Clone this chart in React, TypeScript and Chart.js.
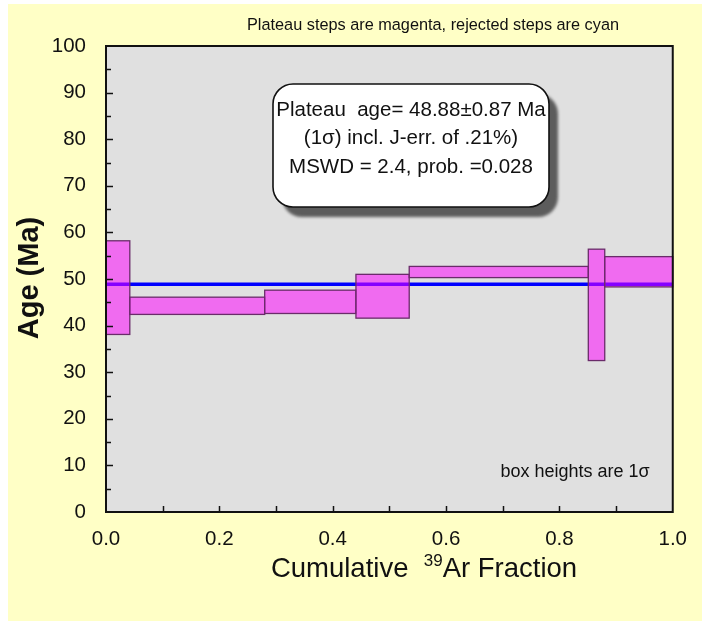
import React, { useEffect, useRef } from "react";
import { Chart, registerables } from "chart.js";

Chart.register(...registerables);

// Step heating increments: cumulative 39Ar fraction bounds, apparent age and 1σ error (Ma)
const stepStart = [0.0, 0.042, 0.28, 0.441, 0.535, 0.851, 0.88];
const stepEnd = [0.042, 0.28, 0.441, 0.535, 0.851, 0.88, 1.0];
const stepAge = [48.15, 44.25, 45.1, 46.3, 51.5, 44.45, 51.55];
const stepErr = [10.05, 1.85, 2.5, 4.7, 1.2, 11.95, 3.25];

const plateauAge = 48.88;

const xTickValues = [0, 0.2, 0.4, 0.6, 0.8, 1.0];
const yTickValues = [0, 10, 20, 30, 40, 50, 60, 70, 80, 90, 100];

const chartTitle = "Plateau steps are magenta, rejected steps are cyan";
const infoLines = [
  "Plateau  age= 48.88\u00b10.87 Ma",
  "(1\u03c3) incl. J-err. of .21%)",
  "MSWD = 2.4, prob. =0.028",
];
const boxNote = "box heights are 1\u03c3";
const yTitle = "Age (Ma)";

const FONT = "'Liberation Sans', Arial, sans-serif";
const PAGE_BG = "#ffffc6";
const PLOT_BG = "#e0e0e0";

function roundRect(ctx: CanvasRenderingContext2D, x: number, y: number, w: number, h: number, r: number) {
  ctx.beginPath();
  ctx.moveTo(x + r, y);
  ctx.lineTo(x + w - r, y);
  ctx.arcTo(x + w, y, x + w, y + r, r);
  ctx.lineTo(x + w, y + h - r);
  ctx.arcTo(x + w, y + h, x + w - r, y + h, r);
  ctx.lineTo(x + r, y + h);
  ctx.arcTo(x, y + h, x, y + h - r, r);
  ctx.lineTo(x, y + r);
  ctx.arcTo(x, y, x + r, y, r);
  ctx.closePath();
}

const plotBackground = {
  id: "plotBackground",
  beforeDatasetsDraw(chart: any) {
    const { ctx, chartArea: a } = chart;
    ctx.save();
    ctx.fillStyle = PLOT_BG;
    ctx.fillRect(a.left, a.top, a.right - a.left, a.bottom - a.top);
    ctx.restore();
  },
};

const stepBoxes = {
  id: "stepBoxes",
  afterDatasetsDraw(chart: any) {
    const { ctx, scales } = chart;
    const xs = scales.x;
    const ys = scales.y;
    ctx.save();
    for (let i = 0; i < stepAge.length; i++) {
      const x0 = xs.getPixelForValue(stepStart[i]);
      const x1 = xs.getPixelForValue(stepEnd[i]);
      const yTop = ys.getPixelForValue(stepAge[i] + stepErr[i]);
      const yBot = ys.getPixelForValue(stepAge[i] - stepErr[i]);
      ctx.fillStyle = "rgba(255, 0, 255, 0.52)";
      ctx.fillRect(x0, yTop, x1 - x0, yBot - yTop);
      ctx.strokeStyle = "#6a2c6a";
      ctx.lineWidth = 1.3;
      ctx.strokeRect(x0, yTop, x1 - x0, yBot - yTop);
    }
    ctx.restore();
  },
};

const frameAndText = {
  id: "frameAndText",
  afterDraw(chart: any) {
    const { ctx, chartArea: a, scales } = chart;
    const xs = scales.x;
    const ys = scales.y;
    ctx.save();

    // inward tick marks
    ctx.strokeStyle = "#111";
    ctx.lineWidth = 1.5;
    ctx.beginPath();
    for (let v = 5; v < 100; v += 5) {
      const y = Math.round(ys.getPixelForValue(v)) + 0.5;
      const len = v % 10 === 0 ? 7 : 5;
      ctx.moveTo(a.left, y);
      ctx.lineTo(a.left + len, y);
    }
    for (let k = 1; k < 10; k++) {
      const x = Math.round(xs.getPixelForValue(k / 10)) + 0.5;
      ctx.moveTo(x, a.bottom);
      ctx.lineTo(x, a.bottom - 6);
    }
    ctx.stroke();

    // plot frame
    ctx.lineWidth = 2;
    ctx.strokeStyle = "#111";
    ctx.strokeRect(a.left, a.top, a.right - a.left, a.bottom - a.top);

    // title
    ctx.fillStyle = "#111";
    ctx.textAlign = "center";
    ctx.textBaseline = "middle";
    ctx.font = `16.3px ${FONT}`;
    ctx.fillText(chartTitle, 425, 22);

    // note
    ctx.font = `18px ${FONT}`;
    ctx.fillText(boxNote, 567, 468);

    // y title
    ctx.save();
    ctx.translate(30, 274);
    ctx.rotate(-Math.PI / 2);
    ctx.font = `bold 29px ${FONT}`;
    ctx.textBaseline = "alphabetic";
    ctx.fillText(yTitle, 0, 0);
    ctx.restore();

    // x title with superscript
    const big = `27.5px ${FONT}`;
    const small = `17px ${FONT}`;
    const partA = "Cumulative  ";
    const partB = "39";
    const partC = "Ar Fraction";
    ctx.font = big;
    const wA = ctx.measureText(partA).width;
    const wC = ctx.measureText(partC).width;
    ctx.font = small;
    const wB = ctx.measureText(partB).width;
    const total = wA + wB + wC;
    let x = 416 - total / 2;
    const base = 573;
    ctx.textAlign = "left";
    ctx.textBaseline = "alphabetic";
    ctx.font = big;
    ctx.fillText(partA, x, base);
    x += wA;
    ctx.font = small;
    ctx.fillText(partB, x, base - 11);
    x += wB;
    ctx.font = big;
    ctx.fillText(partC, x, base);

    // info box with drop shadow
    const bx = 265, by = 80, bw = 276, bh = 123, r = 20;
    ctx.save();
    ctx.filter = "blur(1.5px)";
    ctx.fillStyle = "#5c5c5c";
    roundRect(ctx, bx + 9, by + 10, bw, bh, r);
    ctx.fill();
    ctx.restore();
    ctx.fillStyle = "#ffffff";
    roundRect(ctx, bx, by, bw, bh, r);
    ctx.fill();
    ctx.lineWidth = 1.6;
    ctx.strokeStyle = "#111";
    ctx.stroke();

    ctx.fillStyle = "#111";
    ctx.textAlign = "center";
    ctx.textBaseline = "middle";
    ctx.font = `20.5px ${FONT}`;
    infoLines.forEach((line, i) => {
      ctx.fillText(line, bx + bw / 2, 106 + i * 28.5);
    });

    ctx.restore();
  },
};

export default function App() {
  const canvasRef = useRef<HTMLCanvasElement | null>(null);

  useEffect(() => {
    const canvas = canvasRef.current;
    if (!canvas) return;
    const chart = new Chart(canvas, {
      type: "scatter",
      data: {
        datasets: [
          {
            label: "Plateau age",
            data: [
              { x: 0, y: plateauAge },
              { x: 1, y: plateauAge },
            ],
            showLine: true,
            borderColor: "#0000ff",
            borderWidth: 3.5,
            pointRadius: 0,
            fill: false,
          },
        ],
      },
      options: {
        responsive: false,
        animation: false,
        layout: { padding: { top: 42, right: 25, left: 0, bottom: 0 } },
        plugins: {
          legend: { display: false },
          tooltip: { enabled: false },
          title: { display: false },
        },
        scales: {
          x: {
            type: "linear",
            min: 0,
            max: 1,
            afterFit: (s: any) => {
              s.height = 109;
            },
            afterBuildTicks: (s: any) => {
              s.ticks = xTickValues.map((v) => ({ value: v }));
            },
            grid: { display: false, drawTicks: false },
            border: { display: false },
            ticks: {
              padding: 15,
              color: "#111",
              font: { family: FONT, size: 20.5 },
              callback: (v: any) => Number(v).toFixed(1),
              maxRotation: 0,
              autoSkip: false,
            },
          },
          y: {
            type: "linear",
            min: 0,
            max: 100,
            afterFit: (s: any) => {
              s.width = 98;
            },
            afterBuildTicks: (s: any) => {
              s.ticks = yTickValues.map((v) => ({ value: v }));
            },
            grid: { display: false, drawTicks: false },
            border: { display: false },
            ticks: {
              padding: 20,
              color: "#111",
              font: { family: FONT, size: 20.5 },
              autoSkip: false,
            },
          },
        },
      },
      plugins: [plotBackground, stepBoxes, frameAndText],
    });
    return () => chart.destroy();
  }, []);

  return (
    <div
      style={{
        position: "fixed",
        left: 8,
        top: 4,
        right: 0,
        bottom: 0,
        background: PAGE_BG,
      }}
    >
      <canvas ref={canvasRef} width={694} height={617} style={{ display: "block" }} />
    </div>
  );
}
